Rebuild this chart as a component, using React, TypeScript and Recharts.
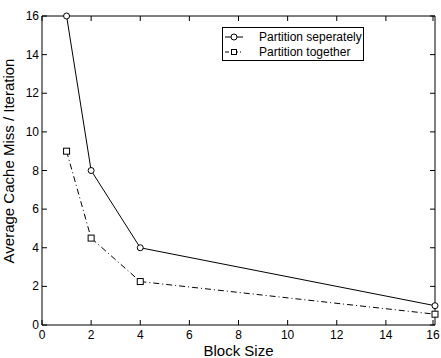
import { Legend, Line, LineChart, XAxis, YAxis } from 'recharts'

document.body.style.margin = '0'

const blockSizes = [1, 2, 4, 16]
const missSeparately = [16, 8, 4, 1]
const missTogether = [9, 4.5, 2.25, 0.56]
const axisTicks = [0, 2, 4, 6, 8, 10, 12, 14, 16]

const seriesNames = ['Partition seperately', 'Partition together']
const font = '"Liberation Sans", Arial, Helvetica, sans-serif'
const dashDot = '6 3 1 3'

const data = blockSizes.map((size, i) => ({
  size,
  separately: missSeparately[i],
  together: missTogether[i],
}))

const BottomTick = (props: any) => {
  const { x, y, payload } = props
  return (
    <g>
      <line x1={x} y1={y} x2={x} y2={y - 5} stroke="#000" />
      <text x={x} y={y + 14} textAnchor="middle" fontSize={12} fontFamily={font} fill="#000">
        {payload.value}
      </text>
    </g>
  )
}

const LeftTick = (props: any) => {
  const { x, y, payload } = props
  return (
    <g>
      <line x1={x} y1={y} x2={x + 5} y2={y} stroke="#000" />
      <text x={x - 3} y={y + 4} textAnchor="end" fontSize={12} fontFamily={font} fill="#000">
        {payload.value}
      </text>
    </g>
  )
}

const TopTick = (props: any) => {
  const { x, y } = props
  return <line x1={x} y1={y} x2={x} y2={y + 5} stroke="#000" />
}

const RightTick = (props: any) => {
  const { x, y } = props
  return <line x1={x} y1={y} x2={x - 5} y2={y} stroke="#000" />
}

const SquareDot = (props: any) => {
  const { cx, cy, index } = props
  return <rect key={`sq-${index}`} x={cx - 3} y={cy - 3} width={6} height={6} fill="#fff" stroke="#000" />
}

const LegendBox = () => (
  <div
    style={{
      border: '1px solid #000',
      background: '#fff',
      width: 142,
      height: 34,
      fontFamily: font,
      fontSize: 12,
      boxSizing: 'border-box',
      paddingTop: 2,
      textAlign: 'left',
    }}
  >
    {seriesNames.map((name, i) => (
      <div key={name} style={{ display: 'flex', alignItems: 'center', height: 14.5 }}>
        <svg width={35} height={10} style={{ marginLeft: 1 }}>
          <line x1={1} y1={5} x2={19} y2={5} stroke="#000" strokeDasharray={i === 0 ? undefined : '4 2 1 2'} />
          {i === 0 ? (
            <circle cx={10} cy={5} r={3} fill="#fff" stroke="#000" />
          ) : (
            <rect x={7.5} y={2.5} width={5} height={5} fill="#fff" stroke="#000" />
          )}
        </svg>
        <span style={{ lineHeight: '14px' }}>{name}</span>
      </div>
    ))}
  </div>
)

export default function App() {
  return (
    <LineChart width={441} height={358} data={data} margin={{ top: 15, right: 5, bottom: 0, left: 0 }}>
      <XAxis
        dataKey="size"
        type="number"
        domain={[0, 16]}
        ticks={axisTicks}
        height={33}
        tickSize={0}
        tickMargin={0}
        axisLine={{ stroke: '#000' }}
        tick={BottomTick}
        label={() => (
          <text x={238.5} y={356} textAnchor="middle" fontSize={15} fontFamily={font} fill="#000">
            Block Size
          </text>
        )}
      />
      <XAxis
        xAxisId="top"
        dataKey="size"
        orientation="top"
        type="number"
        domain={[0, 16]}
        ticks={axisTicks}
        height={1}
        tickSize={0}
        tickMargin={0}
        axisLine={{ stroke: '#000' }}
        tick={TopTick}
      />
      <YAxis
        type="number"
        domain={[0, 16]}
        ticks={axisTicks}
        width={42}
        tickSize={0}
        tickMargin={0}
        axisLine={{ stroke: '#000' }}
        tick={LeftTick}
        label={() => (
          <text
            x={14}
            y={161}
            transform="rotate(-90 14 161)"
            textAnchor="middle"
            fontSize={15}
            fontFamily={font}
            fill="#000"
          >
            Average Cache Miss / Iteration
          </text>
        )}
      />
      <YAxis
        yAxisId="right"
        orientation="right"
        type="number"
        domain={[0, 16]}
        ticks={axisTicks}
        width={1}
        tickSize={0}
        tickMargin={0}
        axisLine={{ stroke: '#000' }}
        tick={RightTick}
      />
      <Legend
        content={LegendBox}
        layout="vertical"
        align="center"
        verticalAlign="middle"
        wrapperStyle={{ position: 'absolute', left: 222, top: 27, width: 142, height: 34 }}
      />
      <Line
        xAxisId="top"
        yAxisId="right"
        dataKey="separately"
        stroke="none"
        dot={false}
        legendType="none"
        isAnimationActive={false}
      />
      <Line
        dataKey="separately"
        name={seriesNames[0]}
        type="linear"
        stroke="#000"
        strokeWidth={1}
        dot={{ r: 3, fill: '#fff', stroke: '#000', strokeWidth: 1 }}
        isAnimationActive={false}
      />
      <Line
        dataKey="together"
        name={seriesNames[1]}
        type="linear"
        stroke="#000"
        strokeWidth={1}
        strokeDasharray={dashDot}
        dot={SquareDot}
        isAnimationActive={false}
      />
    </LineChart>
  )
}
